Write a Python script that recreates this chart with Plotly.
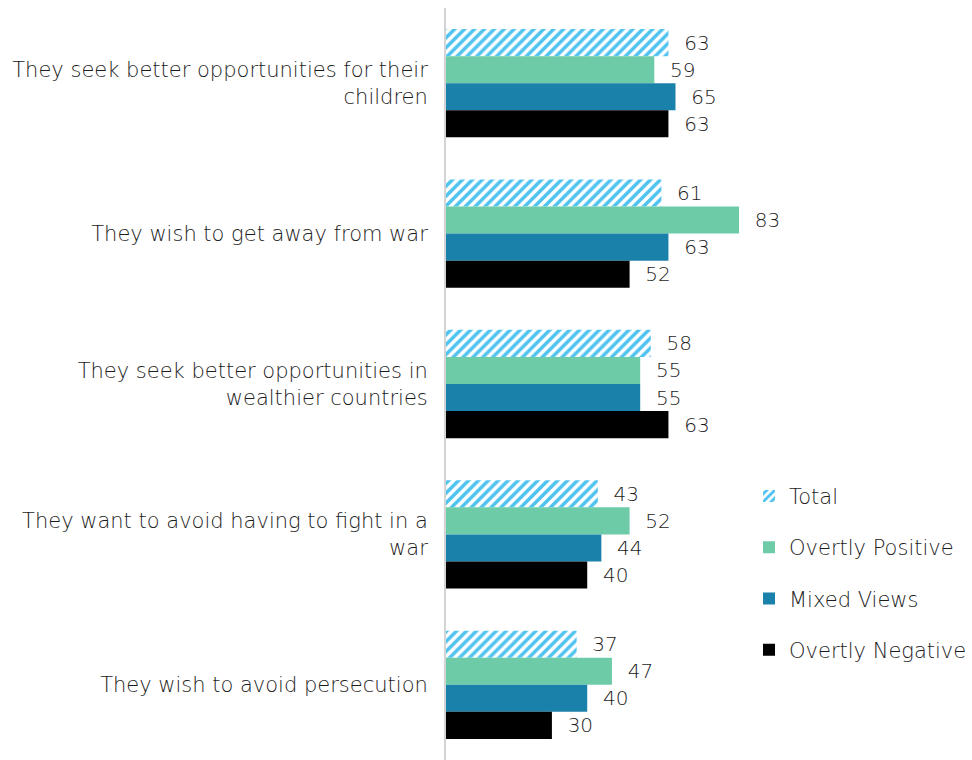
import plotly.graph_objects as go

categories = [
    "They seek better opportunities for their<br>children",
    "They wish to get away from war",
    "They seek better opportunities in<br>wealthier countries",
    "They want to avoid having to fight in a<br>war",
    "They wish to avoid persecution",
]
series_names = ["Total", "Overtly Positive", "Mixed Views", "Overtly Negative"]
total = [63, 61, 58, 43, 37]
overtly_positive = [59, 83, 55, 52, 47]
mixed_views = [65, 63, 55, 44, 40]
overtly_negative = [63, 52, 63, 40, 30]

values = [total, overtly_positive, mixed_views, overtly_negative]
colors = ["#4FC3EF", "#6DCBA8", "#1A82AA", "#000000"]
FONT = "DejaVu Sans, sans-serif"
TEXT_COLOR = "#1c1c1c"
LABEL_SIZE = 21
VALUE_SIZE = 20

fig = go.Figure()
for name, vals, col in zip(series_names, values, colors):
    marker = dict(color=col, line=dict(width=0))
    if name == "Total":
        marker = dict(
            color="white",
            line=dict(width=0),
            pattern=dict(shape="/", fgcolor=col, bgcolor="white",
                         size=7, solidity=0.5, fillmode="replace"),
        )
    fig.add_trace(go.Bar(
        name=name,
        y=categories,
        x=vals,
        orientation="h",
        marker=marker,
        text=vals,
        texttemplate="  %{x}",
        textposition="outside",
        textfont=dict(family=FONT, size=VALUE_SIZE, color=TEXT_COLOR, weight=300),
        cliponaxis=False,
        constraintext="none",
        legendgroup=name,
    ))

fig.update_layout(
    width=972,
    height=760,
    barmode="group",
    bargap=0.28,
    bargroupgap=0,
    plot_bgcolor="white",
    paper_bgcolor="white",
    margin=dict(l=446, r=206, t=8, b=0),
    font=dict(family=FONT, size=LABEL_SIZE, color=TEXT_COLOR, weight=300),
    xaxis=dict(range=[0, 89.5], visible=False, fixedrange=True),
    yaxis=dict(
        autorange="reversed",
        showline=True,
        linecolor="#d4d4d4",
        linewidth=2,
        ticks="",
        ticklabelstandoff=12,
        showgrid=False,
        tickfont=dict(family=FONT, size=LABEL_SIZE, color=TEXT_COLOR, weight=300),
    ),
    legend=dict(
        x=0.96,
        xanchor="left",
        y=0.378,
        yanchor="top",
        tracegroupgap=21,
        itemwidth=30,
        font=dict(family=FONT, size=LABEL_SIZE, color=TEXT_COLOR, weight=300),
        bgcolor="rgba(0,0,0,0)",
    ),
    showlegend=True,
)

fig.write_html("out.html")
